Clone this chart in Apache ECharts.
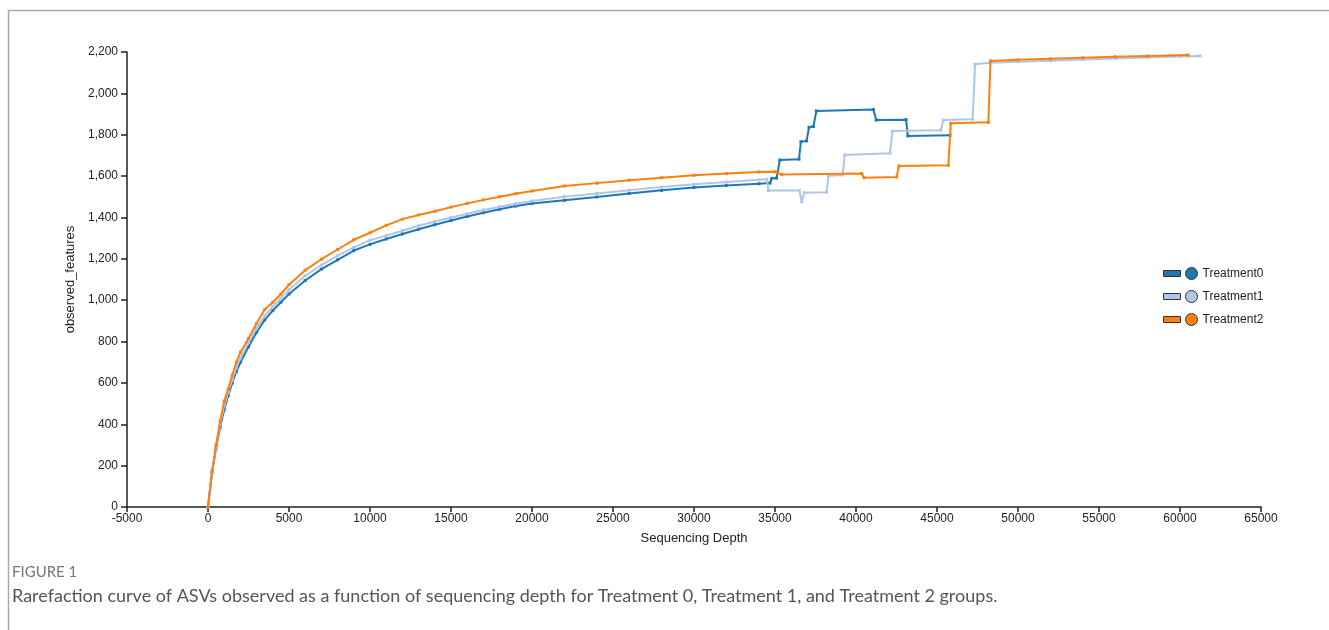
<!DOCTYPE html>
<html>
<head>
<meta charset="utf-8">
<script src="https://cdn.jsdelivr.net/npm/echarts@6/dist/echarts.min.js"></script>
<style>
  html, body { margin: 0; padding: 0; background: #fff; }
  #chart { width: 1329px; height: 630px; }
</style>
</head>
<body>
<div id="chart"></div>
<script>
// shared sequencing depths for the smooth part of the curves
const depthCurve = [0, 250, 500, 750, 1000, 1250, 1500, 1750, 2000, 2500, 3000, 3500, 4000, 4500, 5000,
  6000, 7000, 8000, 9000, 10000, 11000, 12000, 13000, 14000, 15000, 16000, 17000, 18000, 19000, 20000,
  22000, 24000, 26000, 28000, 30000, 32000, 34000]

const t0Curve = [0, 168, 285, 385, 470, 540, 600, 655, 700, 775, 845, 905, 950, 990, 1030,
  1095, 1150, 1195, 1240, 1270, 1296, 1320, 1343, 1365, 1385, 1405, 1423, 1440, 1455, 1467,
  1483, 1499, 1516, 1531, 1545, 1555, 1563]
const t1Curve = [0, 170, 290, 400, 490, 555, 615, 675, 720, 795, 865, 925, 970, 1010, 1050,
  1118, 1170, 1215, 1255, 1290, 1312, 1336, 1360, 1380, 1400, 1418, 1436, 1452, 1466, 1480,
  1500, 1516, 1532, 1547, 1560, 1571, 1582]
const t2Curve = [0, 172, 300, 415, 512, 570, 638, 700, 748, 815, 888, 955, 990, 1030, 1075,
  1145, 1198, 1245, 1292, 1326, 1362, 1392, 1412, 1430, 1450, 1468, 1485, 1500, 1515, 1528,
  1552, 1566, 1580, 1592, 1604, 1612, 1620]

// [depth, observed_features] past the shared part, where groups drop out
const t0Tail = [[34690, 1566], [34800, 1589], [35100, 1590], [35300, 1678], [36480, 1682], [36600, 1766],
  [36950, 1770], [37100, 1836], [37370, 1840], [37550, 1915], [41070, 1922], [41250, 1871],
  [43090, 1873], [43200, 1794], [45800, 1797]]
const t1Tail = [[34490, 1585], [34600, 1530], [36500, 1530], [36650, 1476], [36800, 1520], [38190, 1522],
  [38300, 1602], [39180, 1605], [39300, 1702], [42100, 1710], [42250, 1818], [45230, 1822],
  [45400, 1871], [47200, 1875], [47350, 2141], [48270, 2148], [50000, 2153], [52000, 2158],
  [54000, 2164], [56000, 2169], [58000, 2174], [60000, 2178], [61235, 2181]]
const t2Tail = [[35000, 1621], [35400, 1608], [40350, 1612], [40500, 1592], [42510, 1596], [42650, 1649],
  [45700, 1652], [45850, 1855], [48170, 1860], [48300, 2157], [50000, 2162], [52000, 2167],
  [54000, 2172], [56000, 2177], [58000, 2181], [60500, 2185]]

const groups = ['Treatment0', 'Treatment1', 'Treatment2']
const colors = ['#1f77b4', '#aec7e8', '#ff7f0e']

const join = (curve, tail) => depthCurve.map((d, i) => [d, curve[i]]).concat(tail)
const seriesData = [join(t0Curve, t0Tail), join(t1Curve, t1Tail), join(t2Curve, t2Tail)]

const chart = echarts.init(document.getElementById('chart'))

// rectangle + circle, like the original legend swatch
const legendIcon = 'path://M0,3 L17,3 L17,9 L0,9 Z M22,6 A6,6 0 1,0 34,6 A6,6 0 1,0 22,6 Z'

chart.setOption({
  animation: false,
  backgroundColor: '#fff',
  color: colors,
  textStyle: { fontFamily: 'Liberation Sans, Arial, sans-serif' },
  graphic: [
    {
      type: 'rect',
      left: 6,
      top: 8,
      shape: { width: 1400, height: 700 },
      style: { fill: 'none', stroke: '#a8a8a8', lineWidth: 1.5 },
      silent: true,
    },
    {
      type: 'text',
      left: 12,
      top: 565,
      style: { text: 'FIGURE 1', fill: '#777', font: '15px Lato, sans-serif' },
    },
    {
      type: 'text',
      left: 12,
      top: 587,
      style: {
        text: 'Rarefaction curve of ASVs observed as a function of sequencing depth for Treatment 0, Treatment 1, and Treatment 2 groups.',
        fill: '#555',
        font: '18px Lato, sans-serif',
      },
    },
  ],
  legend: {
    orient: 'vertical',
    left: 1158,
    top: 262,
    itemWidth: 34,
    itemHeight: 12,
    itemGap: 10,
    icon: legendIcon,
    itemStyle: { borderColor: '#333', borderWidth: 1 },
    textStyle: { color: '#222', fontSize: 12 },
    data: groups,
  },
  grid: { left: 127, right: 68, top: 52, bottom: 123 },
  xAxis: {
    type: 'value',
    min: -5000,
    max: 65000,
    interval: 5000,
    name: 'Sequencing Depth',
    nameLocation: 'middle',
    nameGap: 25,
    nameTextStyle: { color: '#222', fontSize: 13 },
    axisLine: { onZero: false, lineStyle: { color: '#222', width: 1.5 } },
    axisTick: { length: 5, lineStyle: { color: '#222', width: 1.5 } },
    axisLabel: { color: '#222', fontSize: 12, margin: 6, formatter: v => String(v) },
    splitLine: { show: false },
  },
  yAxis: {
    type: 'value',
    min: 0,
    max: 2200,
    interval: 200,
    name: 'observed_features',
    nameLocation: 'middle',
    nameGap: 48,
    nameTextStyle: { color: '#222', fontSize: 13 },
    axisLine: { show: true, onZero: false, lineStyle: { color: '#222', width: 1.5 } },
    axisTick: { show: true, length: 6, lineStyle: { color: '#222', width: 1.5 } },
    axisLabel: { color: '#222', fontSize: 12, margin: 9, formatter: v => v.toLocaleString('en-US') },
    splitLine: { show: false },
  },
  series: groups.map((name, i) => ({
    name,
    type: 'line',
    data: seriesData[i],
    symbol: 'rect',
    symbolSize: 3,
    showAllSymbol: true,
    lineStyle: { color: colors[i], width: 2 },
    itemStyle: { color: colors[i] },
    z: 2 + i,
  })),
})

window.addEventListener('resize', () => {
  chart.resize()
})
</script>
</body>
</html>
